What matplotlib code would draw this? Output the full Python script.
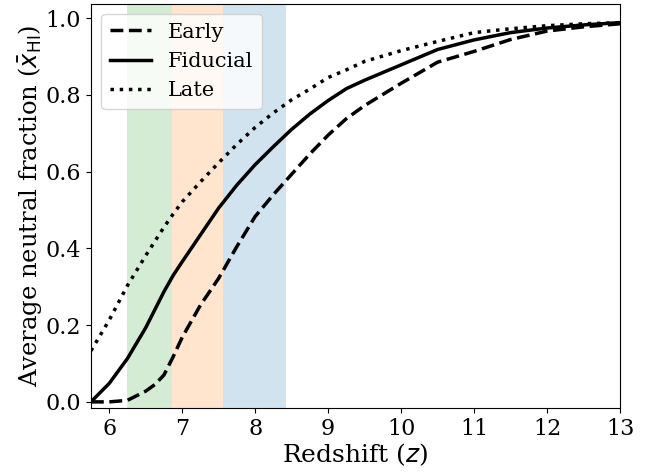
import numpy as np
import matplotlib
matplotlib.use("Agg")
import matplotlib.pyplot as plt

plt.rcParams["font.family"] = "DejaVu Serif"
plt.rcParams["mathtext.fontset"] = "dejavusans"

# redshift grid and neutral fraction histories
z = [5.75, 6.0, 6.25, 6.5, 6.625, 6.75, 6.875, 7.0, 7.25, 7.5, 7.75, 8.0,
     8.25, 8.5, 8.75, 9.0, 9.25, 9.5, 10.0, 10.5, 11.0, 11.5, 12.0, 12.5, 13.0]
x_early = [0.0, 0.0, 0.004, 0.028, 0.045, 0.07, 0.117, 0.168, 0.252, 0.322,
           0.405, 0.483, 0.54, 0.593, 0.646, 0.695, 0.738, 0.772, 0.83, 0.885,
           0.913, 0.944, 0.966, 0.977, 0.985]
x_fid = [0.0, 0.048, 0.113, 0.193, 0.24, 0.287, 0.329, 0.365, 0.435, 0.505,
         0.565, 0.618, 0.665, 0.71, 0.75, 0.785, 0.816, 0.838, 0.878, 0.918,
         0.943, 0.962, 0.974, 0.982, 0.988]
x_late = [0.133, 0.213, 0.303, 0.381, 0.418, 0.455, 0.489, 0.521, 0.573, 0.623,
          0.671, 0.715, 0.753, 0.787, 0.815, 0.845, 0.865, 0.887, 0.915, 0.939,
          0.962, 0.972, 0.98, 0.985, 0.988]

# redshift bins shaded on the plot
bin_edges = [6.25, 6.86, 7.565, 8.42]
bin_colors = ["tab:green", "tab:orange", "tab:blue"]

fig = plt.figure(figsize=(6.59, 4.76), dpi=100)
ax = fig.add_axes([0.138, 0.142, 0.803, 0.85])

for i in range(len(bin_colors)):
    ax.axvspan(bin_edges[i], bin_edges[i + 1], color=bin_colors[i], alpha=0.2, lw=0)

ax.plot(z, x_early, "k--", lw=2.5, label="Early")
ax.plot(z, x_fid, "k-", lw=2.5, label="Fiducial")
ax.plot(z, x_late, "k:", lw=2.5, label="Late")

ax.set_xlim(5.75, 13)
ax.set_ylim(-0.017, 1.037)
ax.set_xticks(range(6, 14))
ax.set_yticks([0.0, 0.2, 0.4, 0.6, 0.8, 1.0])
ax.tick_params(labelsize=16)
ax.set_xlabel("Redshift ($z$)", fontsize=18, labelpad=1)
ax.set_ylabel(r"Average neutral fraction ($\bar{x}_{\rm HI}$)", fontsize=17.5, labelpad=1)
ax.legend(loc="upper left", fontsize=15)

fig.savefig("out.png", dpi=100)
